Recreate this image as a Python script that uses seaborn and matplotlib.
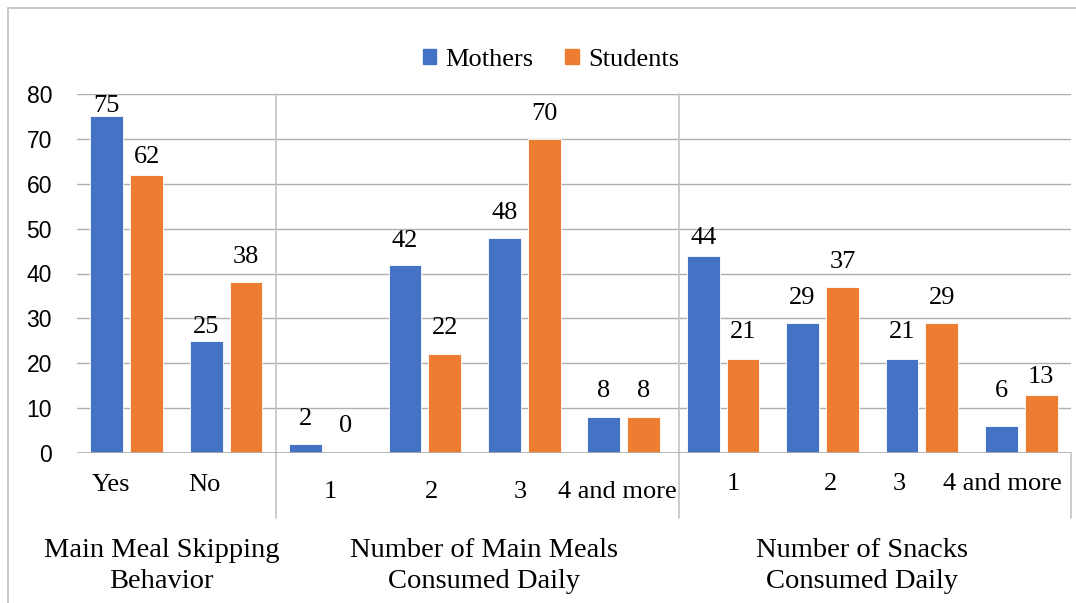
import matplotlib
matplotlib.use("Agg")
import matplotlib.pyplot as plt
from matplotlib.patches import Rectangle
import seaborn as sns
import pandas as pd

# Survey responses (%)
categories = ["Yes", "No", "1", "2", "3", "4 and more", "1 ", "2 ", "3 ", "4 and more "]
mothers = [75, 25, 2, 42, 48, 8, 44, 29, 21, 6]
students = [62, 38, 0, 22, 70, 8, 21, 37, 29, 13]
groups = ["Main Meal Skipping\nBehavior", "Number of Main Meals\nConsumed Daily",
          "Number of Snacks\nConsumed Daily"]
group_sizes = [2, 4, 4]
series = ["Mothers", "Students"]
colors = ["#4472C4", "#ED7D31"]

# layout tweaks: category-text nudges (x in category units, y in px below axis)
label_dx = [-0.16, -0.22, 0.05, 0.07, -0.04, -0.06, 0.10, 0.08, -0.23, -0.19]
label_dy = [32, 32, 39, 39, 39, 39, 31, 31, 31, 31]
# value-label height above each bar top (px), per series
value_lift = [
    [10, 14, 25, 24, 25, 26, 18, 25, 27, 35],
    [18, 25, 27, 26, 25, 26, 27, 25, 25, 18],
]
group_dx = [-0.15, 0.09, -0.1]

df = pd.DataFrame({
    "category": categories * 2,
    "value": mothers + students,
    "series": [series[0]] * len(categories) + [series[1]] * len(categories),
})

sns.set_theme(style="white")
plt.rcParams["font.family"] = ["Liberation Serif", "DejaVu Serif"]
plt.rcParams["text.color"] = "black"
plt.rcParams["ytick.color"] = "black"

W, H = 1076, 603
PT = 72 / 100  # points per pixel
fig = plt.figure(figsize=(W / 100, H / 100), dpi=100)
x0, x1, ytop, ybot = 77, 1071, 94, 453
ax = fig.add_axes([x0 / W, (H - ybot) / H, (x1 - x0) / W, (ybot - ytop) / H])

sns.barplot(data=df, x="category", y="value", hue="series", order=categories,
            hue_order=series, palette=colors, width=0.8, gap=0.175,
            edgecolor="white", linewidth=0.6, saturation=1, ax=ax, legend=False)

ax.set_xlim(-0.5, len(categories) - 0.5)
ax.set_ylim(0, 80)
ax.set_yticks(range(0, 81, 10))
ax.yaxis.grid(True, color="#AFAFAF", linewidth=1.0)
ax.set_axisbelow(True)
for s in ax.spines.values():
    s.set_visible(False)
ax.axhline(0, color="#AFAFAF", linewidth=1.2, zorder=3)
ax.set_xlabel("")
ax.set_ylabel("")
ax.set_xticks([])
ax.tick_params(axis="y", length=0, pad=18)
for t in ax.get_yticklabels():
    t.set_fontfamily("Liberation Sans")
    t.set_fontsize(16.5)

# value labels centred above each bar
for cont, lifts in zip(ax.containers, value_lift):
    for bar, lift in zip(cont, lifts):
        h = bar.get_height()
        ax.annotate(f"{h:.0f}", xy=(bar.get_x() + bar.get_width() / 2, h),
                    xytext=(0, lift * PT), textcoords="offset points",
                    ha="center", va="center", fontsize=19, annotation_clip=False)

# category labels under the axis
for i, (lab, dx, dy) in enumerate(zip(categories, label_dx, label_dy)):
    ax.annotate(lab.strip(), xy=(i + dx, 0), xycoords=("data", "axes fraction"),
                xytext=(0, -dy * PT), textcoords="offset points",
                ha="center", va="center", fontsize=19, annotation_clip=False)

# group dividers and group titles
below = (518 - ybot) / (ybot - ytop)
divider_nudge = [0.0, 0.06, 0.0]
start = 0
for gi, (g, n) in enumerate(zip(groups, group_sizes)):
    end = start + n
    xd = end - 0.5 + divider_nudge[gi]
    ax.plot([xd, xd], [1 if gi < len(groups) - 1 else 0, -below],
            transform=ax.get_xaxis_transform(), color="#C4C4C4", linewidth=1.2,
            clip_on=False, zorder=1)
    ax.annotate(g, xy=((start + end - 1) / 2 + group_dx[gi], 0),
                xycoords=("data", "axes fraction"),
                xytext=(0, -113 * PT), textcoords="offset points",
                ha="center", va="center", fontsize=20.5, linespacing=1.3,
                annotation_clip=False)
    start = end

# legend
handles = [Rectangle((0, 0), 1, 1, color=c) for c in colors]
fig.legend(handles, series, loc="center", bbox_to_anchor=(551 / W, 1 - 60 / H),
           ncol=2, frameon=False, fontsize=19, handlelength=0.5, handleheight=0.5,
           handletextpad=0.35, columnspacing=1.2)

# chart frame (left and top edges)
fig.patches.append(Rectangle((8 / W, -0.1), 1.5, 1 - 8 / H + 0.1, transform=fig.transFigure,
                             fill=False, edgecolor="#C0C0C0", linewidth=1.2))

fig.savefig("out.png", dpi=100, facecolor="white")
